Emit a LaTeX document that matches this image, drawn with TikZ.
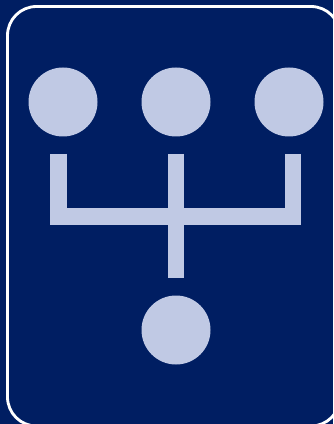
\documentclass[tikz,border=0pt]{standalone}
\usepackage{tikz}
\usepackage{xcolor}
\usetikzlibrary{positioning}
\definecolor{navyBg}{RGB}{0,30,98}
\definecolor{paleDot}{RGB}{192,201,228}

\begin{document}
\begin{tikzpicture}[
  x=0.3mm, y=-0.3mm,
  dot/.style={circle, fill=paleDot, inner sep=0pt, minimum size=20.7mm},
  forkbar/.style={draw=paleDot, line width=4.95mm, line cap=butt, miter limit=10},
]
  % Background and frame
  \useasboundingbox (0,0) rectangle (333,424);
  \fill[navyBg] (0,0) rectangle (333,424);
  \clip (0,0) rectangle (333,424);
  \draw[white, line width=0.85mm, rounded corners=8.7mm] (7.5,6.5) rectangle (340,426);

  % Circles
  \node[dot] (dotL) at (63,102) {};
  \node[dot] (dotM) at (176,102) {};
  \node[dot] (dotR) at (289,102) {};
  \node[dot] (dotB) at (176,330) {};

  % Fork
  \coordinate (forkL) at (58.7,154);
  \coordinate (forkM) at (176,154);
  \coordinate (forkR) at (293,154);
  \coordinate (joinL) at (58.7,216.5);
  \coordinate (joinR) at (293,216.5);
  \coordinate (stem) at (176,277.7);
  \draw[forkbar] (forkL) -- (joinL) -- (joinR) -- (forkR);
  \draw[forkbar] (forkM) -- (stem);
\end{tikzpicture}
\end{document}
